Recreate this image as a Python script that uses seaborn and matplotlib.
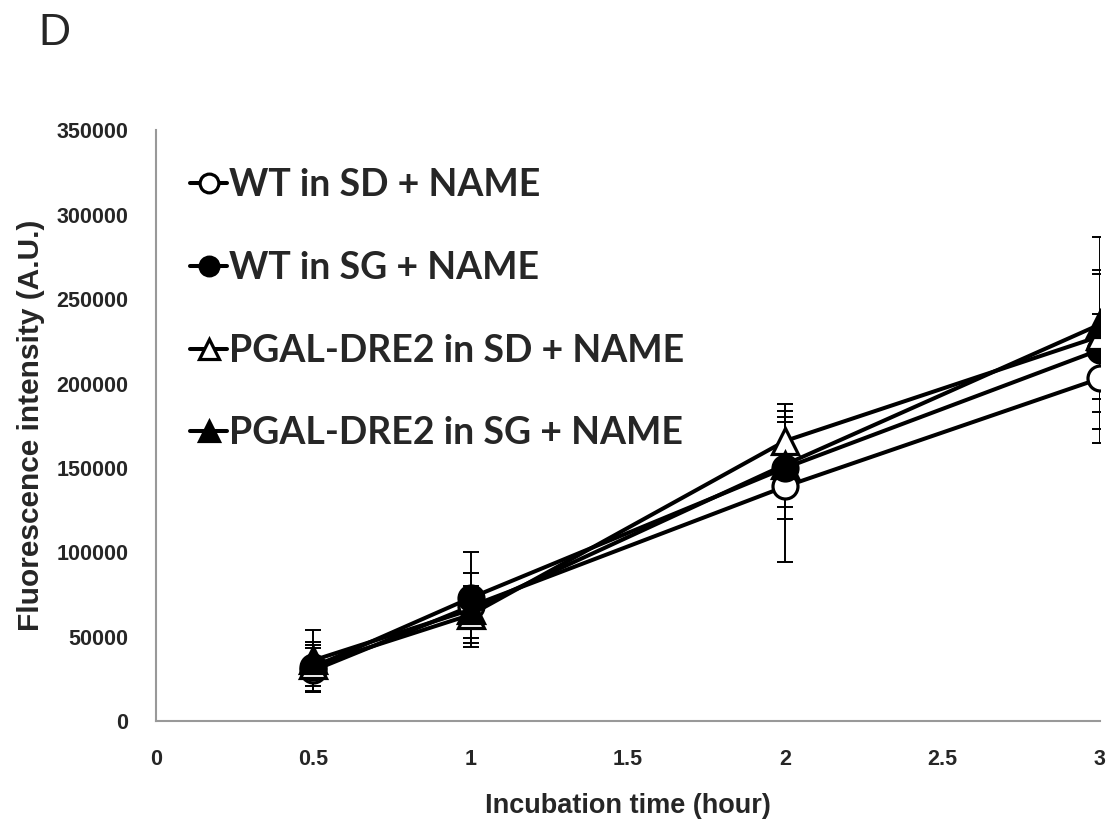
import numpy as np
import pandas as pd
import matplotlib
matplotlib.use('Agg')
import matplotlib.pyplot as plt
import seaborn as sns

# data
times = [0.5, 1, 2, 3]
series_names = ['WT in SD + NAME', 'WT in SG + NAME',
                'PGAL-DRE2 in SD + NAME', 'PGAL-DRE2 in SG + NAME']
wt_sd = [30000, 68000, 139000, 203000]
wt_sd_err = [13000, 12000, 45000, 38000]
wt_sg = [32000, 73000, 150000, 220000]
wt_sg_err = [15000, 27000, 30000, 47000]
pgal_sd = [33000, 63000, 166000, 228000]
pgal_sd_err = [12000, 14000, 22000, 37000]
pgal_sg = [36000, 66000, 152000, 235000]
pgal_sg_err = [18000, 22000, 25000, 52000]

x_ticks = [0, 0.5, 1, 1.5, 2, 2.5, 3]
y_ticks = [0, 50000, 100000, 150000, 200000, 250000, 300000, 350000]

sns.set_theme(style='white')
plt.rcParams['font.family'] = ['Liberation Sans', 'DejaVu Sans']

fig = plt.figure(figsize=(11.15, 8.25), dpi=100)
ax = fig.add_axes([0.140, 0.126, 0.8465, 0.716])

values = [wt_sd, wt_sg, pgal_sd, pgal_sg]
errors = [wt_sd_err, wt_sg_err, pgal_sd_err, pgal_sg_err]
markers = ['o', 'o', '^', '^']
faces = ['white', 'black', 'white', 'black']

# error bars behind the lines
for vals, errs in zip(values, errors):
    ax.errorbar(times, vals, yerr=errs, fmt='none', ecolor='black',
                elinewidth=1.4, capsize=5.5, capthick=1.4, zorder=2)

for name, vals, m, fc in zip(series_names, values, markers, faces):
    df = pd.DataFrame({'time': times, 'value': vals})
    sns.lineplot(data=df, x='time', y='value', ax=ax, color='black',
                 linewidth=2.9, marker=m, markersize=18 if m == 'o' else 19,
                 markerfacecolor=fc, markeredgecolor='black',
                 markeredgewidth=2.3, label=name, zorder=3)

ax.set_xlim(0, 3)
ax.set_ylim(0, 350000)
ax.set_xticks(x_ticks)
ax.set_xticklabels(['0', '0.5', '1', '1.5', '2', '2.5', '3'])
ax.set_yticks(y_ticks)
ax.set_yticklabels([str(v) for v in y_ticks])

for side in ['top', 'right']:
    ax.spines[side].set_visible(False)
for side in ['left', 'bottom']:
    ax.spines[side].set_color('#999999')
    ax.spines[side].set_linewidth(1.5)

ax.tick_params(axis='both', direction='in', length=7, width=1.5,
               color='#999999', labelsize=15.5)
ax.tick_params(axis='y', pad=20)
ax.tick_params(axis='x', pad=20)
for lab in ax.get_xticklabels() + ax.get_yticklabels():
    lab.set_fontweight('bold')

ax.set_xlabel('Incubation time (hour)', fontsize=19.5, fontweight='bold', labelpad=17)
ax.set_ylabel('Fluorescence intensity (A.U.)', fontsize=21.5, fontweight='bold', labelpad=8)

leg = ax.legend(loc='upper left', bbox_to_anchor=(0.0, 0.993), frameon=False,
                prop={'family': 'Lato', 'weight': 'bold', 'size': 27},
                handlelength=1.0, handletextpad=0.05, labelspacing=1.3,
                markerscale=0.75)

fig.text(0.034, 0.945, 'D', fontsize=32)

plt.savefig('out.png', dpi=100)
